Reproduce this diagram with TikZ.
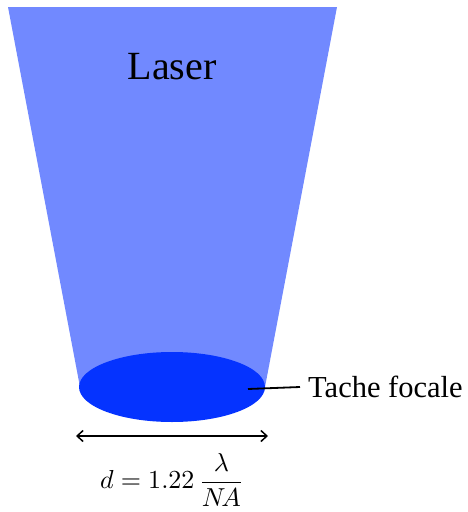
\documentclass[tikz,border=0pt]{standalone}
\usepackage{fontspec}
\usepackage{graphicx}
\setmainfont{Liberation Serif}
\usetikzlibrary{shapes.geometric,arrows.meta}
\definecolor{beam}{RGB}{113,137,255}
\definecolor{spotc}{RGB}{5,51,255}
\tikzset{
  lbl/.style={inner sep=0pt, text=black},
  dimline/.style={line width=1.5pt, {Straight Barb[length=6pt,width=11pt]}-{Straight Barb[length=6pt,width=11pt]}},
  leader/.style={line width=1.8pt}
}
\begin{document}
\begin{tikzpicture}[x=1pt,y=-1pt]
\useasboundingbox (0,0) rectangle (467,512);
\fill[beam] (8,7) -- (337,7) -- (265,387) -- (80,387) -- cycle;
\node[lbl, font=\fontsize{40}{44}\selectfont] (laser) at (172,67) {Laser};
\node[ellipse, fill=spotc, minimum width=186pt, minimum height=70pt, inner sep=0pt] (spot) at (172,387) {};
\node[lbl, font=\fontsize{30.5}{34}\selectfont, anchor=west, inner xsep=8pt] (tache) at (300,387) {Tache focale};
\coordinate (lstart) at (248,389);
\draw[leader] (lstart) -- (tache.west);
\coordinate (dL) at (76,436);
\coordinate (dR) at (268,436);
\draw[dimline] (dL) -- (dR);
\node[lbl] (formula) at (172,480) {\scalebox{2.6}{$\displaystyle d = 1.22\,\frac{\lambda}{N\!A}$}};
\end{tikzpicture}
\end{document}
